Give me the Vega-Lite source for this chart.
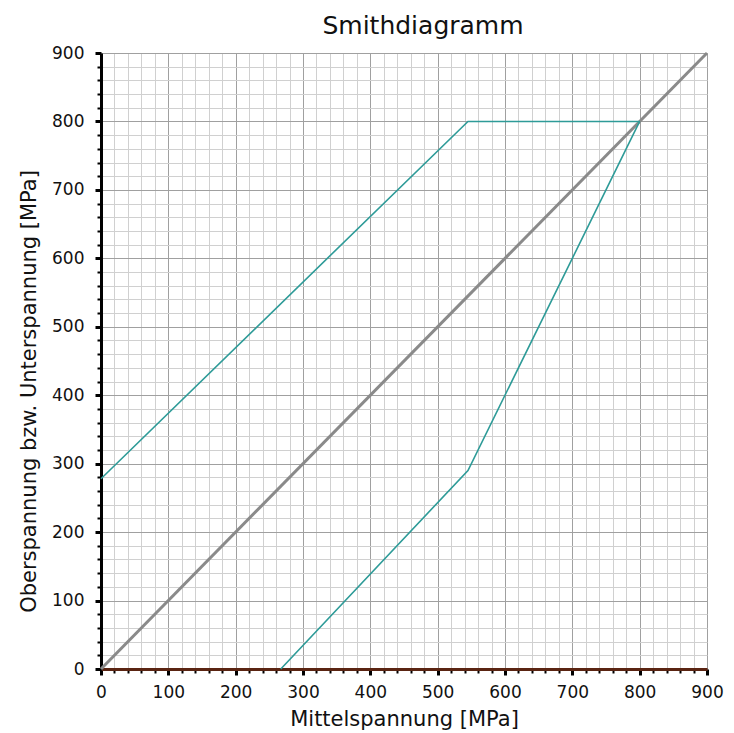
{
  "$schema": "https://vega.github.io/schema/vega-lite/v6.json",
  "width": 606,
  "height": 616,
  "autosize": {"type": "none"},
  "padding": {"left": 101, "top": 53, "right": 27, "bottom": 64},
  "background": "white",
  "title": {"text": "Smithdiagramm", "font": "DejaVu Sans", "fontSize": 25, "fontWeight": "normal", "color": "#111111", "offset": 5, "anchor": "middle", "dx": 19},
  "config": {"view": {"stroke": null}, "axis": {"labelFont": "DejaVu Sans", "titleFont": "DejaVu Sans"}},
  "data": {"values": [
    {"s": "diag", "o": 1, "m": 0, "v": 0},
    {"s": "diag", "o": 2, "m": 900, "v": 900},
    {"s": "upper", "o": 1, "m": 0, "v": 278},
    {"s": "upper", "o": 2, "m": 545, "v": 800},
    {"s": "upper", "o": 3, "m": 800, "v": 800},
    {"s": "lower", "o": 1, "m": 267, "v": 0},
    {"s": "lower", "o": 2, "m": 545, "v": 290},
    {"s": "lower", "o": 3, "m": 800, "v": 800}
  ]},
  "resolve": {"axis": {"x": "independent", "y": "independent"}},
  "layer": [
    {
      "transform": [{"filter": "datum.s == 'diag'"}],
      "mark": {"type": "line", "color": "#8a8a8a", "strokeWidth": 3},
      "encoding": {
        "x": {"field": "m", "type": "quantitative", "scale": {"domain": [0, 900], "nice": false},
          "axis": {"orient": "bottom", "values": [0,20,40,60,80,120,140,160,180,220,240,260,280,320,340,360,380,420,440,460,480,520,540,560,580,620,640,660,680,720,740,760,780,820,840,860,880], "labels": false, "title": null, "domain": false, "grid": true, "gridColor": "#d0d0d0", "gridWidth": 1, "gridOpacity": 1, "ticks": true, "tickSize": 4, "tickWidth": 2, "tickColor": "black"}},
        "y": {"field": "v", "type": "quantitative", "scale": {"domain": [0, 900], "nice": false},
          "axis": {"orient": "left", "values": [0,20,40,60,80,120,140,160,180,220,240,260,280,320,340,360,380,420,440,460,480,520,540,560,580,620,640,660,680,720,740,760,780,820,840,860,880], "labels": false, "title": null, "domain": false, "grid": true, "gridColor": "#d0d0d0", "gridWidth": 1, "gridOpacity": 1, "ticks": true, "tickSize": 4, "tickWidth": 2, "tickColor": "black"}},
        "order": {"field": "o", "type": "quantitative"}
      }
    },
    {
      "transform": [{"filter": "datum.s != 'diag'"}],
      "mark": {"type": "line", "color": "#2e9b98", "strokeWidth": 1.6},
      "encoding": {
        "x": {"field": "m", "type": "quantitative", "scale": {"domain": [0, 900], "nice": false},
          "axis": {"orient": "bottom", "values": [0,100,200,300,400,500,600,700,800,900], "title": "Mittelspannung [MPa]", "titleFontSize": 21, "titleFontWeight": "normal", "titleColor": "#111111", "titlePadding": 8, "labelFontSize": 17, "labelColor": "#111111", "labelPadding": 9, "labelFlush": false, "labelOverlap": false, "domain": true, "domainColor": "#5a2412", "domainWidth": 3, "grid": true, "gridColor": "#a0a0a0", "gridWidth": 1, "gridOpacity": 1, "tickSize": 6, "tickWidth": 3, "tickColor": "black"}},
        "y": {"field": "v", "type": "quantitative", "scale": {"domain": [0, 900], "nice": false},
          "axis": {"orient": "left", "values": [0,100,200,300,400,500,600,700,800,900], "title": "Oberspannung bzw. Unterspannung [MPa]", "titleFontSize": 21, "titleFontWeight": "normal", "titleColor": "#111111", "titlePadding": 12, "titleY": 338, "labelFontSize": 17, "labelColor": "#111111", "labelPadding": 11, "labelFlush": false, "labelOverlap": false, "domain": true, "domainColor": "black", "domainWidth": 3, "grid": true, "gridColor": "#a0a0a0", "gridWidth": 1, "gridOpacity": 1, "tickSize": 6, "tickWidth": 3, "tickColor": "black"}},
        "detail": {"field": "s", "type": "nominal"},
        "order": {"field": "o", "type": "quantitative"}
      }
    }
  ]
}
